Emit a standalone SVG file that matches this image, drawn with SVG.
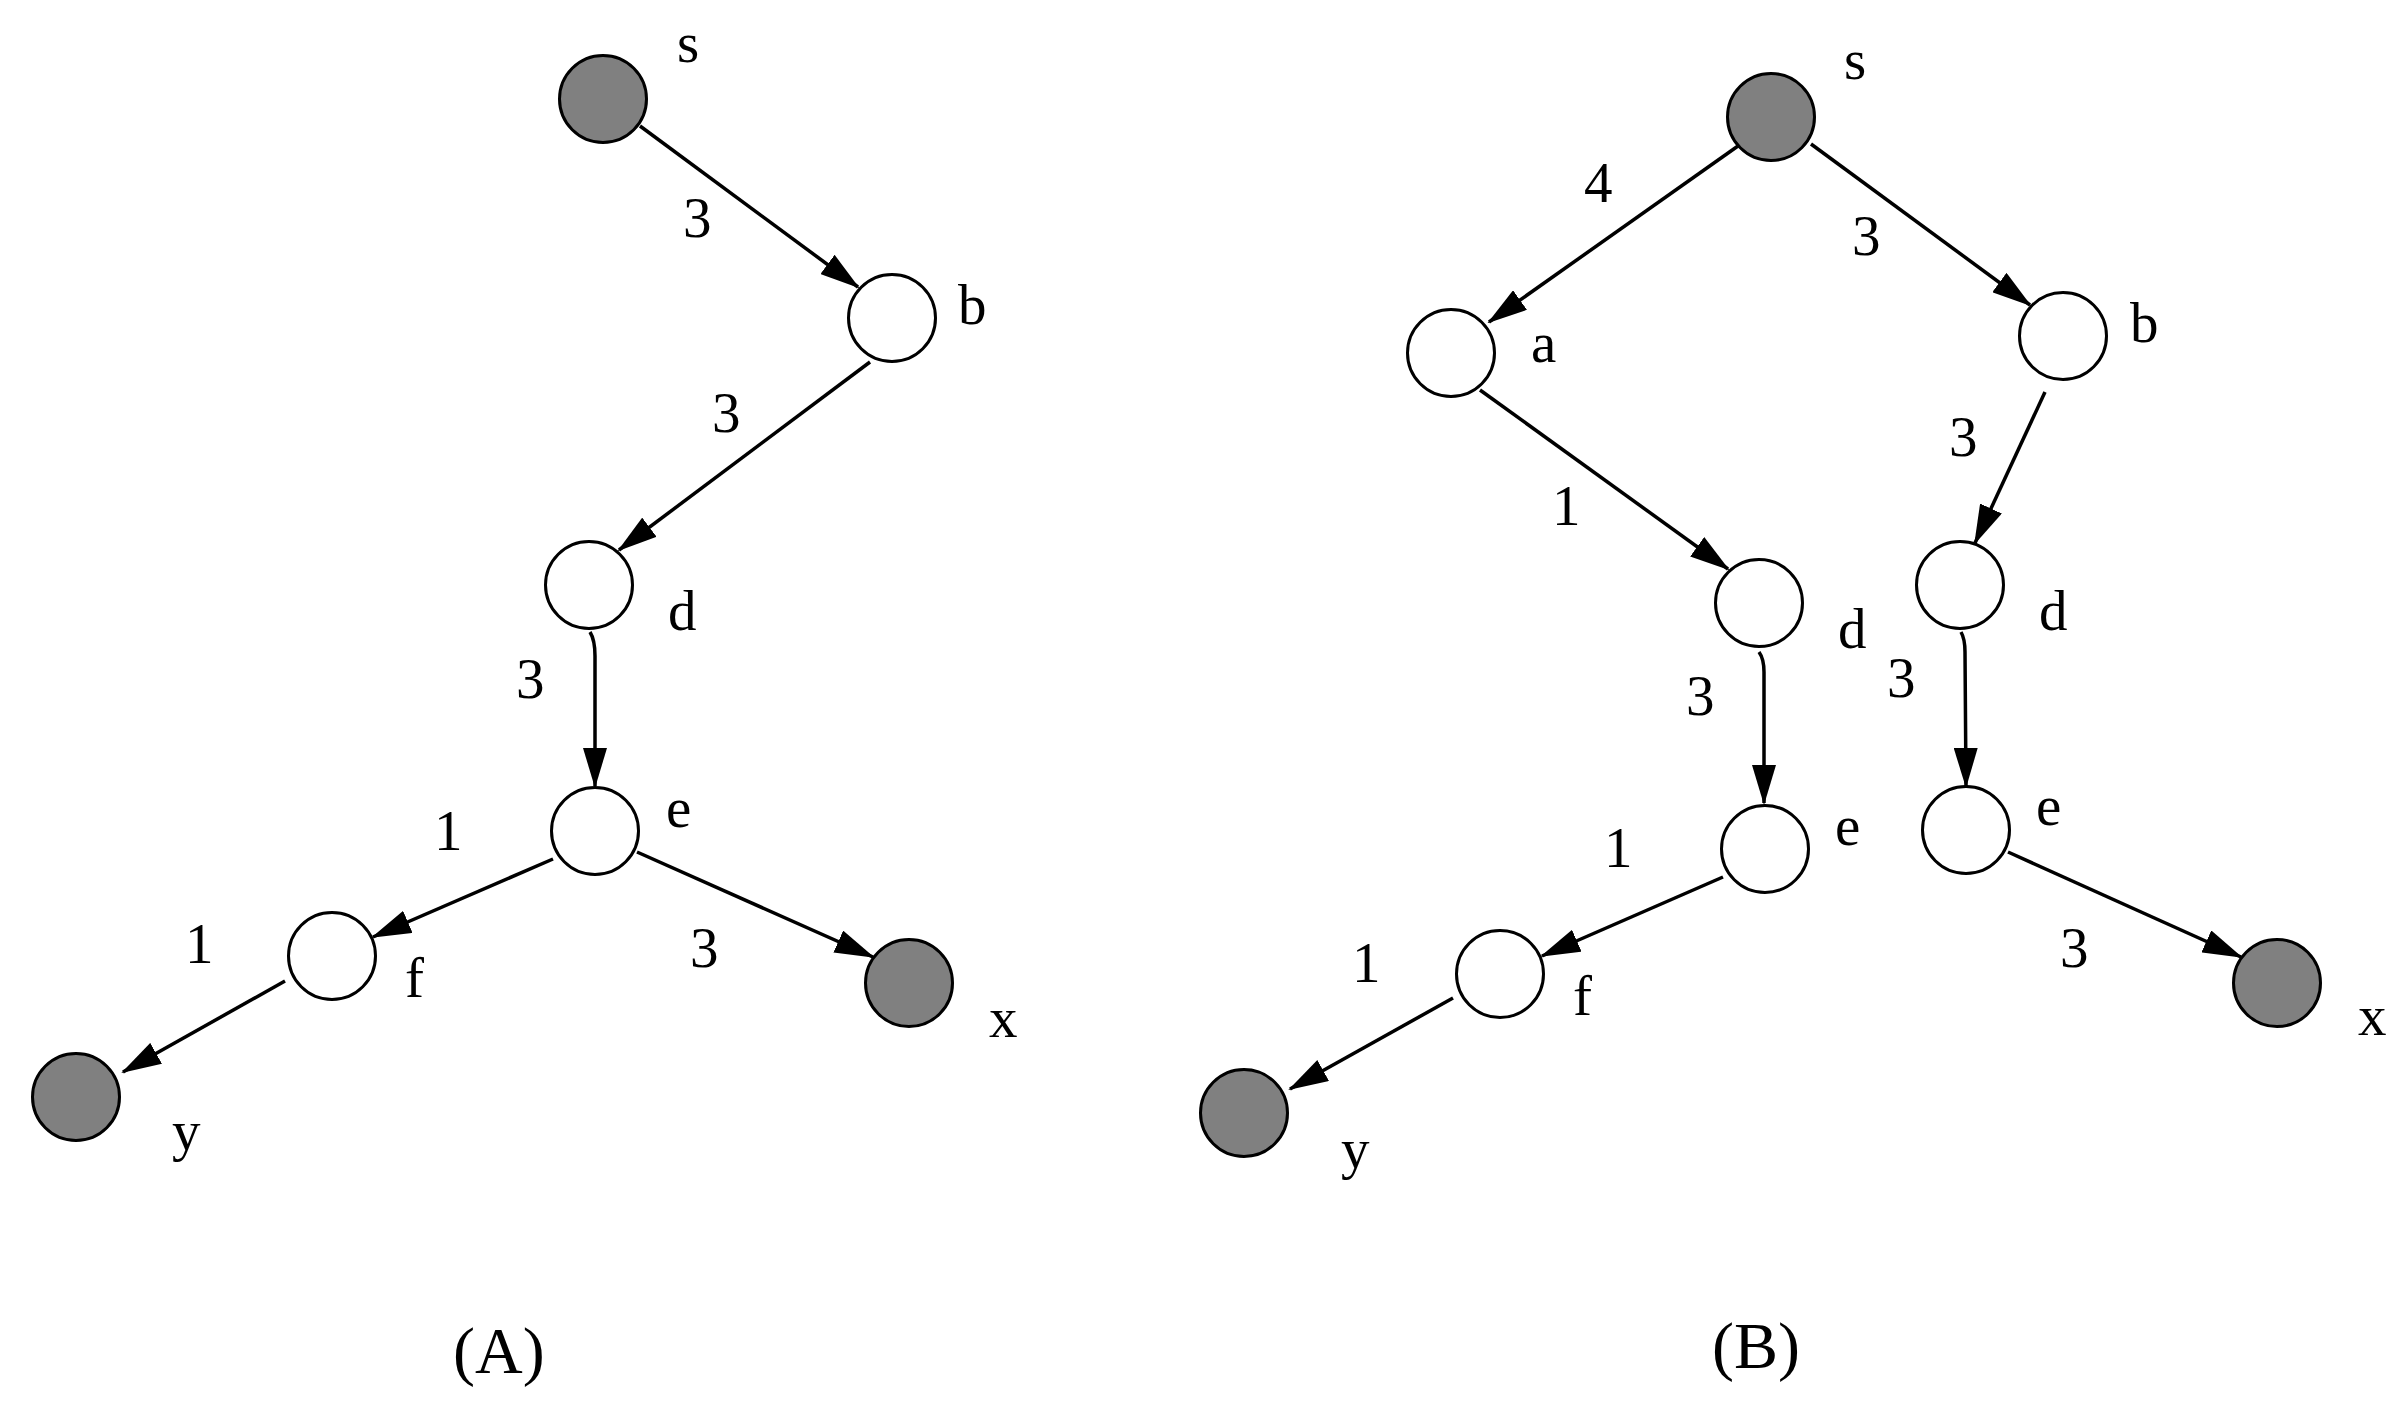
<svg xmlns="http://www.w3.org/2000/svg" width="2397" height="1411" viewBox="0 0 2397 1411">
<defs>
<style>
.n{fill:#fff;stroke:#000;stroke-width:3}
.g{fill:#808080;stroke:#000;stroke-width:3}
.c{fill:none;stroke:#000;stroke-width:3.5;marker-end:url(#ah)}
text{font-family:"Liberation Serif","Times New Roman",serif;font-size:57px;fill:#000}
.cap{font-size:66px}
</style>
<marker id="ah" markerUnits="userSpaceOnUse" markerWidth="40" markerHeight="24" viewBox="0 0 40 24" refX="38" refY="12" orient="auto">
<path d="M0,0 L40,12 L0,24 z" fill="#000"/>
</marker>
</defs>
<rect width="2397" height="1411" fill="#fff"/>
<g id="connectors">
<path class="c" d="M640,126 L858,287"/>
<path class="c" d="M870,362 L619,550"/>
<path class="c" d="M590,632 Q595,640 595,656 L595,786"/>
<path class="c" d="M553,859 L373,937"/>
<path class="c" d="M637,852 L873,957"/>
<path class="c" d="M285,981 L123,1072"/>
<path class="c" d="M1738,146 L1489,322"/>
<path class="c" d="M1811,144 L2030,305"/>
<path class="c" d="M1480,390 L1728,569"/>
<path class="c" d="M2045,392 L1975,543"/>
<path class="c" d="M1759,652 Q1764,659 1764,672 L1764,803"/>
<path class="c" d="M1961,632 Q1965,639 1965,652 L1966,786"/>
<path class="c" d="M1723,877 L1542,956"/>
<path class="c" d="M1453,998 L1290,1089"/>
<path class="c" d="M2008,852 L2241,957"/>
</g>
<g id="weights">
<text x="683" y="237">3</text>
<text x="712" y="432">3</text>
<text x="516" y="698">3</text>
<text x="434" y="850">1</text>
<text x="185" y="963">1</text>
<text x="690" y="967">3</text>
<text x="1584" y="202">4</text>
<text x="1852" y="255">3</text>
<text x="1552" y="525">1</text>
<text x="1949" y="456">3</text>
<text x="1686" y="715">3</text>
<text x="1887" y="697">3</text>
<text x="1604" y="867">1</text>
<text x="1352" y="982">1</text>
<text x="2060" y="967">3</text>
</g>
<g id="A-s"><circle class="g" cx="603" cy="99" r="43.5"/><text x="677" y="62">s</text></g>
<g id="A-b"><circle class="n" cx="892" cy="318" r="43.5"/><text x="958" y="324">b</text></g>
<g id="A-d"><circle class="n" cx="589" cy="585" r="43.5"/><text x="668" y="630">d</text></g>
<g id="A-e"><circle class="n" cx="595" cy="831" r="43.5"/><text x="666" y="827">e</text></g>
<g id="A-f"><circle class="n" cx="332" cy="956" r="43.5"/><text x="405" y="997">f</text></g>
<g id="A-x"><circle class="g" cx="909" cy="983" r="43.5"/><text x="989" y="1037">x</text></g>
<g id="A-y"><circle class="g" cx="76" cy="1097" r="43.5"/><text x="172" y="1150">y</text></g>
<g id="B-s"><circle class="g" cx="1771" cy="117" r="43.5"/><text x="1844" y="79">s</text></g>
<g id="B-a"><circle class="n" cx="1451" cy="353" r="43.5"/><text x="1531" y="362">a</text></g>
<g id="B-b"><circle class="n" cx="2063" cy="336" r="43.5"/><text x="2130" y="342">b</text></g>
<g id="B-d1"><circle class="n" cx="1759" cy="603" r="43.5"/><text x="1838" y="648">d</text></g>
<g id="B-d2"><circle class="n" cx="1960" cy="585" r="43.5"/><text x="2039" y="630">d</text></g>
<g id="B-e1"><circle class="n" cx="1765" cy="849" r="43.5"/><text x="1835" y="845">e</text></g>
<g id="B-e2"><circle class="n" cx="1966" cy="830" r="43.5"/><text x="2036" y="825">e</text></g>
<g id="B-f"><circle class="n" cx="1500" cy="974" r="43.5"/><text x="1573" y="1015">f</text></g>
<g id="B-x"><circle class="g" cx="2277" cy="983" r="43.5"/><text x="2358" y="1035">x</text></g>
<g id="B-y"><circle class="g" cx="1244" cy="1113" r="43.5"/><text x="1341" y="1168">y</text></g>
<g id="captions">
<text class="cap" x="453" y="1373">(A)</text>
<text class="cap" x="1712" y="1368">(B)</text>
</g>
</svg>
